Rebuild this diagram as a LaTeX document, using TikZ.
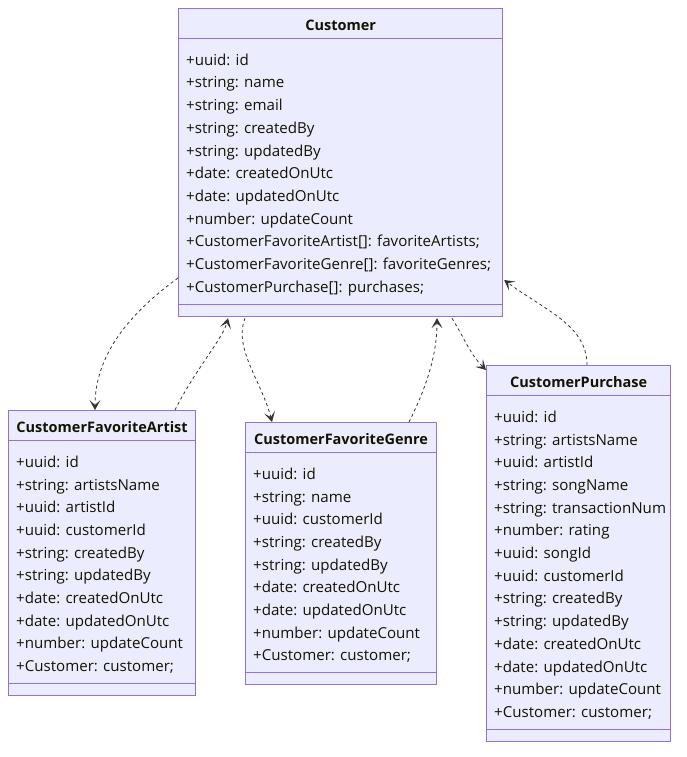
\documentclass[tikz,border=0pt]{standalone}
\usepackage{fontspec}
\setmainfont{Open Sans}
\usetikzlibrary{calc,arrows.meta}
\definecolor{umlfill}{HTML}{ECECFF}
\definecolor{umlborder}{HTML}{9370DB}
\definecolor{txt}{HTML}{131300}
\definecolor{arrowc}{HTML}{333333}
\tikzset{
  cls/.style={draw=umlborder, fill=umlfill, line width=1.2pt, inner sep=0pt, anchor=north west},
  sepline/.style={draw=umlborder, line width=1.2pt},
  titletext/.style={font=\bfseries\fontsize{14.5}{16}\selectfont, text=txt, inner sep=0pt, text height=11pt, text depth=3pt},
  attr/.style={font=\fontsize{15.1}{17}\selectfont, text=txt, anchor=west, inner sep=0pt, text height=11pt, text depth=3pt},
  dep/.style={draw=arrowc, line width=0.8pt, dash pattern=on 3pt off 3pt,
    -{Stealth[length=10pt, width=11pt, inset=5pt]}}
}
\newcommand\umlbox[7]{%
  \node[cls, minimum width=#4pt, minimum height=#5pt] (#1) at (#2,#3) {};
  \node[titletext] (#1-t) at ($(#1.north)+(0,18.5)$) {#6};
  \draw[sepline] ($(#1.north west)+(0,30.5)$) -- ($(#1.north east)+(0,30.5)$);
  \draw[sepline] ($(#1.south west)+(0,-12.5)$) -- ($(#1.south east)+(0,-12.5)$);
  \foreach \r [count=\i from 0] in {#7} {
    \node[attr] (#1-\i) at ($(#1.north west)+(8,53.3+22.7*\i)$) {\r};
  }
}
\begin{document}
\begin{tikzpicture}[x=1pt,y=-1pt]
\useasboundingbox (0,0) rectangle (687,757);
\umlbox{cust}{178}{8}{324}{308}{Customer}{+uuid: id,+string: name,+string: email,+string: createdBy,+string: updatedBy,+date: createdOnUtc,+date: updatedOnUtc,+number: updateCount,+CustomerFavoriteArtist[]: favoriteArtists;,+CustomerFavoriteGenre[]: favoriteGenres;,+CustomerPurchase[]: purchases;}
\umlbox{art}{8}{410}{187}{285}{CustomerFavoriteArtist}{+uuid: id,+string: artistsName,+uuid: artistId,+uuid: customerId,+string: createdBy,+string: updatedBy,+date: createdOnUtc,+date: updatedOnUtc,+number: updateCount,+Customer: customer;}
\umlbox{gen}{245}{422}{191}{262}{CustomerFavoriteGenre}{+uuid: id,+string: name,+uuid: customerId,+string: createdBy,+string: updatedBy,+date: createdOnUtc,+date: updatedOnUtc,+number: updateCount,+Customer: customer;}
\umlbox{pur}{486}{365}{184}{376}{CustomerPurchase}{+uuid: id,+string: artistsName,+uuid: artistId,+string: songName,+string: transactionNum,+number: rating,+uuid: songId,+uuid: customerId,+string: createdBy,+string: updatedBy,+date: createdOnUtc,+date: updatedOnUtc,+number: updateCount,+Customer: customer;}
% connectors
\draw[dep] ($(cust.north west)+(0,270)$) .. controls +(-55,40) and +(0,-50) .. ($(art.north west)+(87,0)$);
\draw[dep] ($(art.north west)+(167,0)$) .. controls +(20,-40) and +(-5,20) .. ($(cust.south west)+(50,1)$);
\draw[dep] ($(cust.south west)+(67,1)$) .. controls +(-12,30) and +(-10,-40) .. ($(gen.north west)+(27,0)$);
\draw[dep] ($(gen.north west)+(164,0)$) .. controls +(15,-30) and +(0,40) .. ($(cust.south west)+(259,1)$);
\draw[dep] ($(cust.south west)+(274,1)$) .. controls +(15,25) and +(-15,-15) .. ($(pur.north west)+(0,5)$);
\draw[dep] ($(pur.north west)+(101,0)$) .. controls +(0,-40) and +(40,30) .. ($(cust.north east)+(1,272)$);
\end{tikzpicture}
\end{document}
